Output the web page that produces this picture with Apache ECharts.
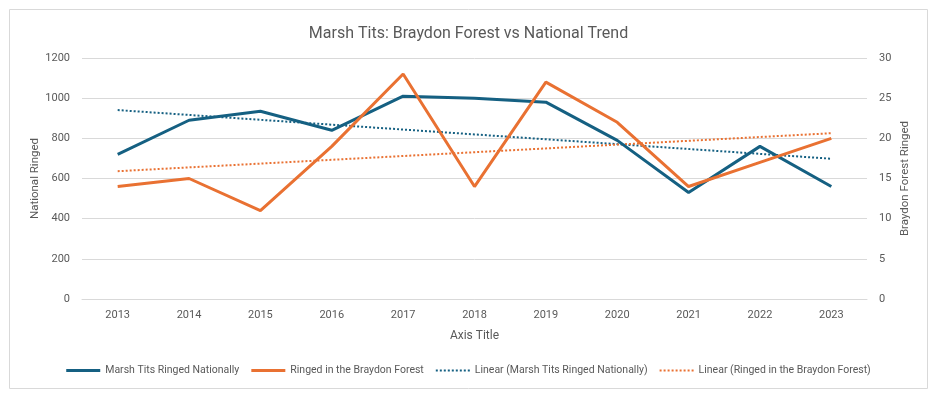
<!DOCTYPE html>
<html>
<head>
<meta charset="utf-8">
<script src="https://cdn.jsdelivr.net/npm/echarts@6/dist/echarts.min.js"></script>
<style>
  html, body { margin: 0; padding: 0; background: #fff; }
  #chart { width: 937px; height: 399px; }
</style>
</head>
<body>
<div id="chart"></div>
<script>
  // data
  let years = ['2013', '2014', '2015', '2016', '2017', '2018', '2019', '2020', '2021', '2022', '2023'];
  let national = [720, 890, 935, 840, 1010, 1000, 980, 790, 530, 760, 560];
  let braydon = [14, 15, 11, 19, 28, 14, 27, 22, 14, 17, 20];

  // linear trend like excel's trendline (least squares on index)
  function linear(vals) {
    let n = vals.length, sx = 0, sy = 0, sxy = 0, sxx = 0;
    vals.forEach(function (v, i) { sx += i; sy += v; sxy += i * v; sxx += i * i; });
    let b = (n * sxy - sx * sy) / (n * sxx - sx * sx);
    let a = (sy - b * sx) / n;
    return vals.map(function (v, i) { return +(a + b * i).toFixed(3); });
  }

  let blue = '#156082', orange = '#E97132', grey = '#595959';
  let font = 'Roboto, sans-serif';
  let solidIcon = 'path://M0,0h34v3h-34z';
  let dotIcon = 'path://M0,0h2v2h-2zM4,0h2v2h-2zM8,0h2v2h-2zM12,0h2v2h-2zM16,0h2v2h-2zM20,0h2v2h-2zM24,0h2v2h-2zM28,0h2v2h-2zM32,0h2v2h-2z';

  let myChart = echarts.init(document.getElementById('chart'));
  let option = {
    animation: false,
    textStyle: { fontFamily: font },
    graphic: [{
      type: 'rect',
      shape: { x: 9.5, y: 9.5, width: 918, height: 379 },
      style: { fill: 'none', stroke: '#d9d9d9', lineWidth: 1 },
      silent: true
    }],
    title: {
      text: 'Marsh Tits: Braydon Forest vs National Trend',
      left: 'center',
      top: 21,
      textStyle: { color: grey, fontSize: 16, fontWeight: 'normal', fontFamily: font }
    },
    grid: { left: 82, right: 70, top: 58, bottom: 100 },
    legend: {
      bottom: 18,
      left: 'center',
      itemWidth: 34,
      itemHeight: 3,
      itemGap: 12,
      textStyle: { color: grey, fontSize: 10.5, fontFamily: font },
      data: [
        { name: 'Marsh Tits Ringed Nationally', icon: solidIcon },
        { name: 'Ringed in the Braydon Forest', icon: solidIcon },
        { name: 'Linear (Marsh Tits Ringed Nationally)', icon: dotIcon },
        { name: 'Linear (Ringed in the Braydon Forest)', icon: dotIcon }
      ]
    },
    xAxis: {
      type: 'category',
      data: years,
      boundaryGap: true,
      name: 'Axis Title',
      nameLocation: 'middle',
      nameGap: 31,
      nameTextStyle: { color: grey, fontSize: 12, fontFamily: font },
      axisLine: { lineStyle: { color: '#d9d9d9' } },
      axisTick: { show: false },
      axisLabel: { color: grey, fontSize: 11, margin: 11, fontFamily: font }
    },
    yAxis: [{
      type: 'value',
      min: 0, max: 1200, interval: 200,
      name: 'National Ringed',
      nameLocation: 'middle',
      nameGap: 41,
      nameMoveOverlap: false,
      nameTextStyle: { color: grey, fontSize: 11.5, fontFamily: font },
      axisLabel: { color: grey, fontSize: 11, margin: 12, fontFamily: font, formatter: function (v) { return String(v); } },
      splitLine: { lineStyle: { color: '#d9d9d9' } }
    }, {
      type: 'value',
      min: 0, max: 30, interval: 5,
      name: 'Braydon Forest Ringed',
      nameLocation: 'middle',
      nameGap: 32,
      nameMoveOverlap: false,
      nameRotate: 90,
      nameTextStyle: { color: grey, fontSize: 11.5, fontFamily: font },
      axisLabel: { color: grey, fontSize: 11, margin: 12, fontFamily: font },
      splitLine: { show: false }
    }],
    series: [{
      name: 'Marsh Tits Ringed Nationally',
      type: 'line',
      data: national,
      symbol: 'none',
      lineStyle: { color: blue, width: 3 },
      itemStyle: { color: blue },
      z: 3
    }, {
      name: 'Ringed in the Braydon Forest',
      type: 'line',
      yAxisIndex: 1,
      data: braydon,
      symbol: 'none',
      lineStyle: { color: orange, width: 3 },
      itemStyle: { color: orange },
      z: 4
    }, {
      name: 'Linear (Marsh Tits Ringed Nationally)',
      type: 'line',
      data: linear(national),
      symbol: 'none',
      lineStyle: { color: blue, width: 2, type: [2, 2] },
      itemStyle: { color: blue },
      z: 2
    }, {
      name: 'Linear (Ringed in the Braydon Forest)',
      type: 'line',
      yAxisIndex: 1,
      data: linear(braydon),
      symbol: 'none',
      lineStyle: { color: orange, width: 2, type: [2, 2] },
      itemStyle: { color: orange },
      z: 2
    }]
  };
  myChart.setOption(option);
</script>
</body>
</html>
